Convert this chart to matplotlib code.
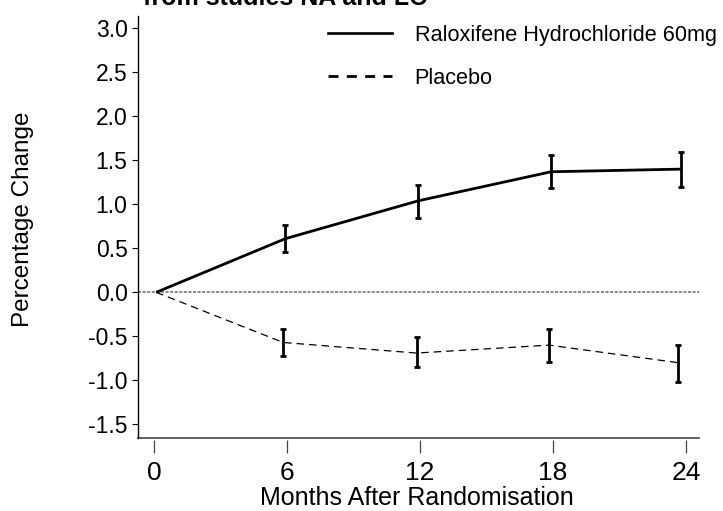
import matplotlib.pyplot as plt
import numpy as np
from matplotlib.lines import Line2D

plt.rcParams['font.family'] = ['Liberation Sans', 'DejaVu Sans']

# months after randomisation (placebo slightly offset, as in the source)
months_ral = [0.1, 5.93, 11.92, 17.91, 23.76]
months_pbo = [0.1, 5.83, 11.84, 17.82, 23.65]

ral_mean = [0.0, 0.61, 1.04, 1.37, 1.40]
ral_low = [0.0, 0.46, 0.85, 1.18, 1.20]
ral_high = [0.0, 0.77, 1.22, 1.56, 1.59]

pbo_mean = [0.0, -0.57, -0.69, -0.60, -0.80]
pbo_low = [0.0, -0.72, -0.85, -0.79, -1.02]
pbo_high = [0.0, -0.42, -0.51, -0.42, -0.60]

xticks = [0, 6, 12, 18, 24]
yticks = [-1.5, -1.0, -0.5, 0.0, 0.5, 1.0, 1.5, 2.0, 2.5, 3.0]


def main():
    fig = plt.figure(figsize=(7.23, 5.11), dpi=100)
    ax = fig.add_axes([138 / 723, 1 - 437.7 / 511, (699 - 138) / 723, (437.7 - 16) / 511])

    ax.set_xlim(-0.72, 24.58)
    ax.set_ylim(-1.652, 3.14)

    ax.axhline(0, color='#6a6a6a', lw=1.1, linestyle=(0, (2, 1)), zorder=1)

    ax.plot(months_ral, ral_mean, color='black', lw=2.0, solid_capstyle='butt', zorder=3)
    ax.plot(months_pbo, pbo_mean, color='black', lw=0.9, linestyle=(0, (6, 4)), zorder=3)

    ral_err = [np.array(ral_mean) - np.array(ral_low), np.array(ral_high) - np.array(ral_mean)]
    pbo_err = [np.array(pbo_mean) - np.array(pbo_low), np.array(pbo_high) - np.array(pbo_mean)]
    ax.errorbar(months_ral[1:], ral_mean[1:], yerr=[e[1:] for e in ral_err], fmt='none',
                ecolor='black', elinewidth=2.0, capsize=2.2, capthick=2.0, zorder=4)
    ax.errorbar(months_pbo[1:], pbo_mean[1:], yerr=[e[1:] for e in pbo_err], fmt='none',
                ecolor='black', elinewidth=2.0, capsize=2.2, capthick=2.0, zorder=4)

    # axes frame: left spine plain, bottom spine with ticks hanging below it
    for side in ['top', 'right']:
        ax.spines[side].set_visible(False)
    ax.spines['left'].set_linewidth(1.0)
    ax.spines['bottom'].set_position(('outward', 1.5))
    ax.spines['bottom'].set_visible(False)
    ax.plot([0, 1], [0, 0], transform=ax.transAxes, color='#444444', lw=1.2, clip_on=False)

    ax.set_yticks(yticks)
    ax.set_yticklabels([f'{v:.1f}' for v in yticks])
    ax.tick_params(axis='y', length=4, width=0.8, pad=3.5, labelsize=16.5)
    ax.set_xticks(xticks)
    ax.tick_params(axis='x', length=9.5, width=0.9, color='#444444', pad=6, labelsize=19)

    fig.text(23 / 723, 1 - 219 / 511, 'Percentage Change', rotation=90, fontsize=17.5,
             ha='center', va='center')
    fig.text(417 / 723, 1 - 505 / 511, 'Months After Randomisation', fontsize=18,
             ha='center', va='baseline')
    # title is clipped by the top edge in the source image
    fig.text(285 / 723, 1 - 5 / 511, 'from studies NA and LC', fontsize=18, fontweight='bold',
             ha='center', va='baseline')

    handles = [Line2D([], [], color='black', lw=1.9),
               Line2D([], [], color='black', lw=2.0, linestyle=(0, (3.6, 3)))]
    fig.legend(handles, ['Raloxifene Hydrochloride 60mg', 'Placebo'],
               loc='upper left', bbox_to_anchor=(328 / 723, 1 - 25 / 511),
               frameon=False, fontsize=15.6, handlelength=2.95, handletextpad=1.05,
               labelspacing=1.0, borderpad=0, borderaxespad=0)

    fig.savefig('out.png', dpi=100)


if __name__ == "__main__":
    main()
